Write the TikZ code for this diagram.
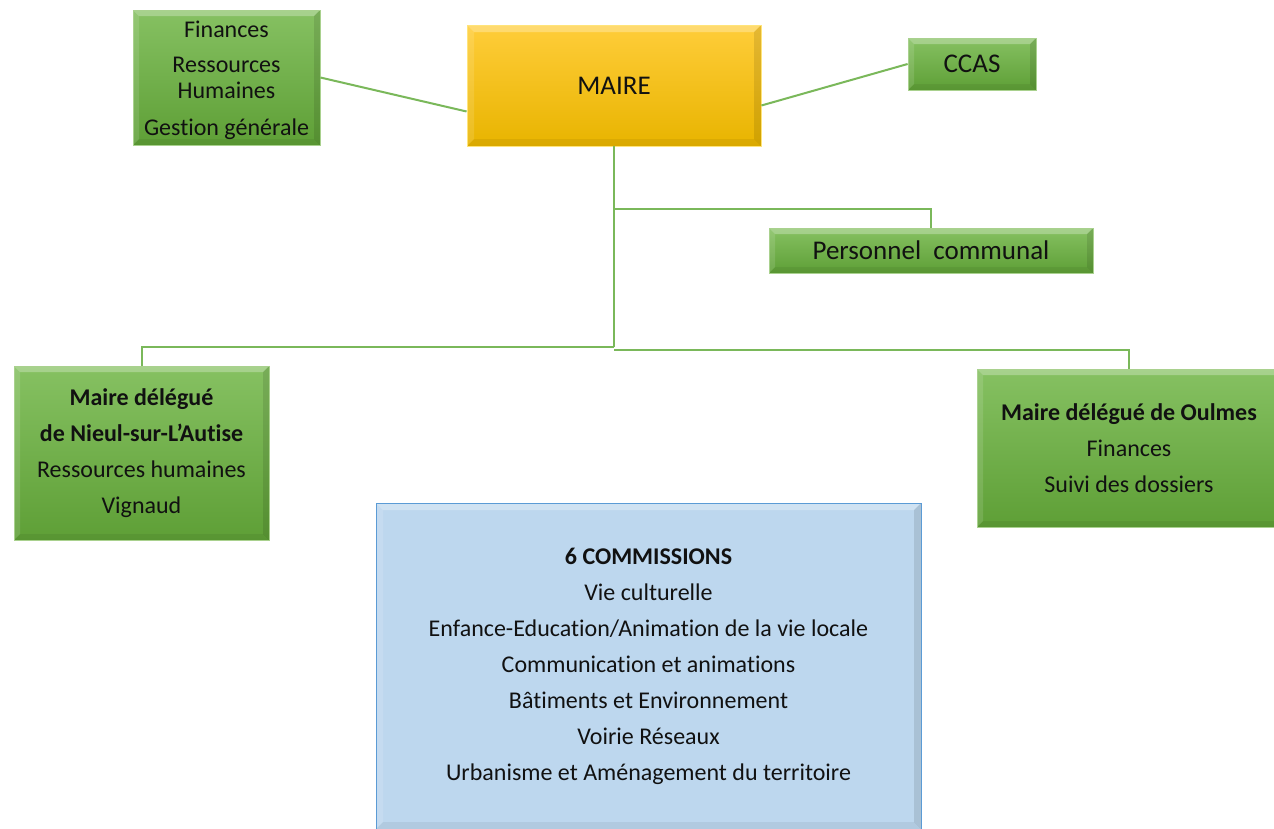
\documentclass[tikz,border=0pt]{standalone}
\usepackage{fontspec}
\setmainfont{Carlito}[Ligatures={NoCommon}]
\definecolor{gtop}{HTML}{86C162}
\definecolor{gbot}{HTML}{5E9F36}
\definecolor{gedge}{HTML}{A9D18E}
\definecolor{ytop}{HTML}{FFCD3A}
\definecolor{ybot}{HTML}{E8B400}
\definecolor{yedge}{HTML}{FFE47A}
\definecolor{bfill}{HTML}{BDD7EE}
\definecolor{bedge}{HTML}{5B9BD5}
\definecolor{linkc}{HTML}{7AB85A}
\definecolor{txt}{HTML}{111111}
\tikzset{
  bevel/.style={path picture={
    \coordinate (nw) at (path picture bounding box.north west);
    \coordinate (ne) at (path picture bounding box.north east);
    \coordinate (sw) at (path picture bounding box.south west);
    \coordinate (se) at (path picture bounding box.south east);
    \fill[white,opacity=0.28] (nw) -- (ne) -- ([xshift=-#1,yshift=-#1]ne) -- ([xshift=#1,yshift=-#1]nw) -- cycle;
    \fill[white,opacity=0.12] (nw) -- ([xshift=#1,yshift=-#1]nw) -- ([xshift=#1,yshift=#1]sw) -- (sw) -- cycle;
    \fill[black,opacity=0.10] (ne) -- ([xshift=-#1,yshift=-#1]ne) -- ([xshift=-#1,yshift=#1]se) -- (se) -- cycle;
    \fill[black,opacity=0.06] (sw) -- ([xshift=#1,yshift=#1]sw) -- ([xshift=-#1,yshift=#1]se) -- (se) -- cycle;
  }},
  gbox/.style={rectangle, inner sep=0pt, align=center, text=txt,
    top color=gtop, bottom color=gbot, draw=gedge, line width=0.8pt, bevel=6pt},
  ybox/.style={rectangle, inner sep=0pt, align=center, text=txt,
    top color=ytop, bottom color=ybot, draw=yedge, line width=0.8pt, bevel=7pt},
  bbox/.style={rectangle, inner sep=0pt, align=center, text=txt,
    fill=bfill, draw=bedge, line width=0.8pt, bevel=7pt},
  link/.style={draw=linkc, line width=2pt},
  big/.style={font=\fontsize{27}{32}\selectfont},
  mid/.style={font=\fontsize{24}{36}\selectfont},
}
\begin{document}
\begin{tikzpicture}[x=1pt,y=-1pt]
\useasboundingbox (0,0) rectangle (1274,828);
\fill[white] (0,0) rectangle (1274,828);

\node[gbox, minimum width=187pt, minimum height=135pt, font=\fontsize{24}{26}\selectfont]
  (fin) at (226.5,77.5) {\rule{0pt}{22pt}Finances\\[9pt]Ressources\\Humaines\\[11pt]Gestion générale};
\node[ybox, big, minimum width=294pt, minimum height=121pt] (maire) at (614,85.5) {MAIRE};
\node[gbox, big, minimum width=128pt, minimum height=52pt] (ccas) at (972,64) {CCAS};
\node[gbox, big, minimum width=324pt, minimum height=45pt] (pers) at (931,250.5) {Personnel\hspace{0.45em}communal};
\node[gbox, mid, minimum width=255pt, minimum height=174pt] (nieul) at (141.5,453)
  {\textbf{Maire délégué}\\\textbf{de Nieul-sur-L\char"27 Autise}\\Ressources humaines\\Vignaud};
\node[gbox, mid, minimum width=304pt, minimum height=158pt] (oulmes) at (1129,448)
  {\textbf{Maire délégué de Oulmes}\\Finances\\Suivi des dossiers};
\node[bbox, mid, minimum width=545pt, minimum height=326pt] (comm) at (648.5,666)
  {\textbf{6 COMMISSIONS}\\Vie culturelle\\Enfance-Education/Animation de la vie locale\\Communication et animations\\Bâtiments et Environnement\\Voirie Réseaux\\Urbanisme et Aménagement du territoire};

\coordinate (j1) at (614,209);
\coordinate (j2) at (614,347);
\coordinate (j3) at (614,350);

\draw[link] (fin.east) -- ([yshift=-26pt]maire.west);
\draw[link] ([yshift=-20pt]maire.east) -- (ccas.west);
\draw[link] (maire.south) -- (j2);
\draw[link] (j1) -| (pers.north);
\draw[link] (j2) -| (nieul.north);
\draw[link] (j3) -| (oulmes.north);
\end{tikzpicture}
\end{document}
